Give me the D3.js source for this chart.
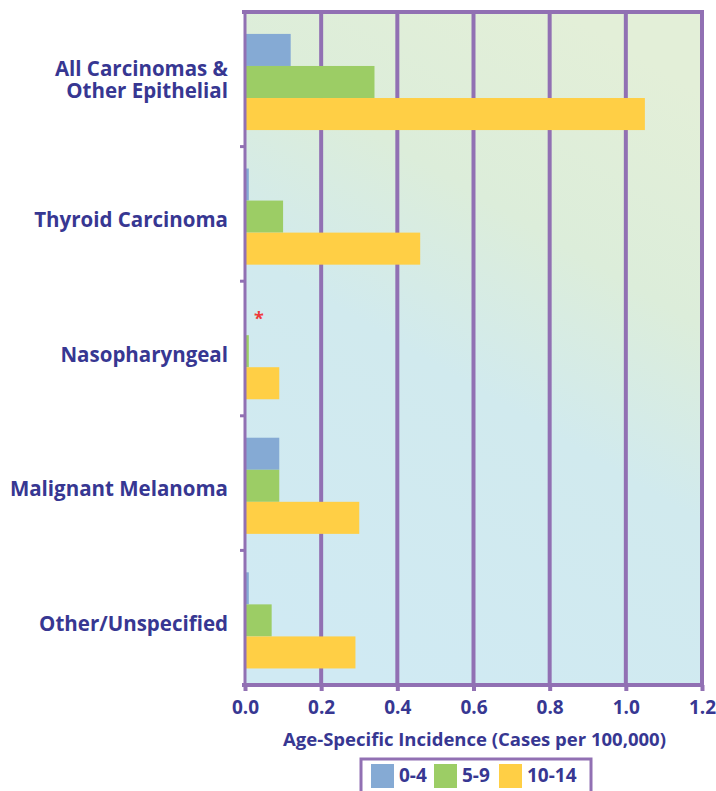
<!DOCTYPE html>
<html>
<head>
<meta charset="utf-8">
<script src="https://cdn.jsdelivr.net/npm/d3@7"></script>
<style>
  html, body { margin: 0; padding: 0; background: #ffffff; }
  svg { display: block; }
  text { font-family: "Open Sans", Lato, sans-serif; font-weight: 700; }
</style>
</head>
<body>
<svg id="chart" width="716" height="791"></svg>
<script>
const categories = [
  ["All Carcinomas &", "Other Epithelial"],
  ["Thyroid Carcinoma"],
  ["Nasopharyngeal"],
  ["Malignant Melanoma"],
  ["Other/Unspecified"]
];
const series = ["0-4", "5-9", "10-14"];
const values04   = [0.12, 0.01, 0,    0.09, 0.01];
const values59   = [0.34, 0.10, 0.01, 0.09, 0.07];
const values1014 = [1.05, 0.46, 0.09, 0.30, 0.29];
const suppressed = [false, false, true, false, false]; // "*" for 0-4
const xTicks = [0, 0.2, 0.4, 0.6, 0.8, 1.0, 1.2];
const xTitle = "Age-Specific Incidence (Cases per 100,000)";

const colors = { "0-4": "#85aad4", "5-9": "#9ccd65", "10-14": "#ffcf45" };
const purple = "#9170b3";
const navy = "#373792";

const svg = d3.select("#chart");
const L = 245, R = 702, T = 12, B = 685;

const defs = svg.append("defs");
const grad = defs.append("linearGradient").attr("id", "bg")
  .attr("x1", "0.7").attr("y1", "0").attr("x2", "0.3").attr("y2", "1");
grad.append("stop").attr("offset", "0").attr("stop-color", "#e3efd8");
grad.append("stop").attr("offset", "0.3").attr("stop-color", "#dcedda");
grad.append("stop").attr("offset", "0.55").attr("stop-color", "#d1eaee");
grad.append("stop").attr("offset", "1").attr("stop-color", "#d0eaf3");

const x = d3.scaleLinear().domain([0, 1.2]).range([L, R]);
const catIdx = categories.map((c, i) => i);
const y0 = d3.scaleBand().domain(catIdx).range([T, B]);
const y1 = d3.scaleBand().domain(series).range([0, y0.bandwidth()])
  .paddingOuter(0.6).align(0.57);

svg.append("rect").attr("x", L).attr("y", T).attr("width", R - L).attr("height", B - T)
  .attr("fill", "url(#bg)");

// vertical grid lines
svg.append("g").selectAll("line").data(xTicks.slice(1)).join("line")
  .attr("x1", d => x(d)).attr("x2", d => x(d))
  .attr("y1", T).attr("y2", B)
  .attr("stroke", purple).attr("stroke-width", 4);

// bars
const data = series.map((s, si) => ({ s, vals: [values04, values59, values1014][si] }));
const g = svg.append("g");
data.forEach(sr => {
  g.selectAll(null).data(sr.vals.map((v, i) => ({ v, i }))).join("rect")
    .attr("x", x(0))
    .attr("y", d => y0(d.i) + y1(sr.s))
    .attr("width", d => x(d.v) - x(0))
    .attr("height", y1.bandwidth())
    .attr("fill", colors[sr.s]);
});

// asterisks
svg.append("g").selectAll("text").data(catIdx.filter(i => suppressed[i])).join("text")
  .attr("x", x(0) + 14)
  .attr("y", i => y0(i) + y1("0-4") + y1.bandwidth() / 2 + 6)
  .attr("text-anchor", "middle")
  .attr("fill", "#ee3b3b").attr("font-size", 18)
  .text("*");

// top border
svg.append("line").attr("x1", L - 3).attr("x2", R + 2).attr("y1", T).attr("y2", T)
  .attr("stroke", purple).attr("stroke-width", 4);

// bottom axis
const xAxis = svg.append("g").attr("transform", `translate(0,${B})`)
  .call(d3.axisBottom(x).tickValues(xTicks).tickFormat(d3.format(".1f")).tickSize(6).tickPadding(10));
xAxis.select(".domain").attr("stroke", purple).attr("stroke-width", 4)
  .attr("d", `M${L - 3},0H${R + 2}`);
xAxis.selectAll(".tick line").attr("stroke", purple).attr("stroke-width", 4);
xAxis.selectAll(".tick text").attr("fill", navy).attr("font-size", 19)
  .attr("font-family", "'Open Sans', sans-serif").attr("font-weight", 700);

// left axis
const yAxis = svg.append("g").attr("transform", `translate(${L},0)`)
  .call(d3.axisLeft(y0).tickValues([]).tickSizeOuter(0));
yAxis.select(".domain").attr("stroke", purple).attr("stroke-width", 3).attr("d", `M0,${T}V${B}`);
svg.append("g").selectAll("line").data(catIdx.slice(1)).join("line")
  .attr("x1", L - 5).attr("x2", L).attr("y1", i => y0(i)).attr("y2", i => y0(i))
  .attr("stroke", purple).attr("stroke-width", 3);

// category labels
const lab = svg.append("g").selectAll("text").data(catIdx).join("text")
  .attr("text-anchor", "end").attr("fill", navy).attr("font-size", 20.5)
  .attr("x", 228)
  .attr("y", i => y0(i) + y0.bandwidth() / 2 + 13 - (categories[i].length - 1) * 16);
lab.selectAll("tspan").data(i => categories[i]).join("tspan")
  .attr("x", 228).attr("dy", (d, j) => j === 0 ? 0 : 22).text(d => d);

// x title
svg.append("text").attr("x", (282 + 667) / 2).attr("y", 746)
  .attr("text-anchor", "middle").attr("fill", navy).attr("font-size", 18.5)
  .text(xTitle);

// legend
const lg = svg.append("g");
lg.append("rect").attr("x", 361).attr("y", 759).attr("width", 230).attr("height", 50)
  .attr("fill", "#ffffff").attr("stroke", purple).attr("stroke-width", 3);
const legX = [371, 434, 499];
series.forEach((s, i) => {
  lg.append("rect").attr("x", legX[i]).attr("y", 764).attr("width", 23).attr("height", 24)
    .attr("fill", colors[s]);
  lg.append("text").attr("x", legX[i] + 28).attr("y", 782).attr("fill", navy)
    .attr("font-size", 19).text(s);
});
</script>
</body>
</html>
